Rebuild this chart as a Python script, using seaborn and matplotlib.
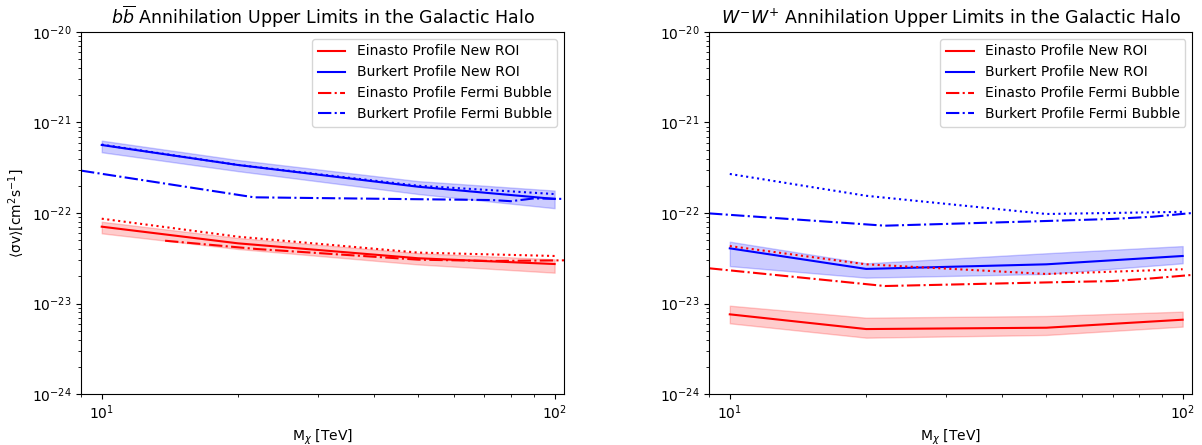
import matplotlib
matplotlib.use("Agg")
import matplotlib.pyplot as plt
import seaborn as sns
import numpy as np
import pandas as pd

# ---------------- data ----------------
mass = [10, 20, 50, 100]

# b bbar channel
bb_ein_new = [7.06e-23, 4.62e-23, 3.16e-23, 2.73e-23]
bb_ein_new_hi = [8.0e-23, 5.3e-23, 3.6e-23, 3.08e-23]
bb_ein_new_lo = [5.96e-23, 4.0e-23, 2.7e-23, 2.19e-23]
bb_bur_new = [5.64e-22, 3.39e-22, 1.95e-22, 1.43e-22]
bb_bur_new_hi = [6.3e-22, 3.85e-22, 2.25e-22, 1.77e-22]
bb_bur_new_lo = [4.69e-22, 2.9e-22, 1.62e-22, 1.13e-22]
bb_ein_old = [8.65e-23, 5.47e-23, 3.65e-23, 3.35e-23]
bb_bur_old = [5.7e-22, 3.4e-22, 2.0e-22, 1.62e-22]

bb_ein_fb_mass = [13.8, 22, 50, 73, 105]
bb_ein_fb = [4.94e-23, 4.0e-23, 3.05e-23, 2.95e-23, 3.0e-23]
bb_bur_fb_mass = [9, 21.7, 50, 73, 80, 90, 105]
bb_bur_fb = [2.94e-22, 1.49e-22, 1.42e-22, 1.39e-22, 1.35e-22, 1.45e-22, 1.43e-22]

# W- W+ channel
ww_ein_new = [7.59e-24, 5.22e-24, 5.4e-24, 6.62e-24]
ww_ein_new_hi = [9.46e-24, 6.97e-24, 7.28e-24, 8.13e-24]
ww_ein_new_lo = [6.04e-24, 4.19e-24, 4.49e-24, 5.55e-24]
ww_bur_new = [4.07e-23, 2.41e-23, 2.71e-23, 3.35e-23]
ww_bur_new_hi = [4.82e-23, 2.78e-23, 3.59e-23, 4.31e-23]
ww_bur_new_lo = [2.59e-23, 1.93e-23, 2.12e-23, 2.78e-23]
ww_ein_old = [4.31e-23, 2.71e-23, 2.12e-23, 2.39e-23]
ww_bur_old = [2.70e-22, 1.55e-22, 9.75e-23, 1.03e-22]

ww_fb_mass = [9, 22, 50, 70, 86, 105]
ww_ein_fb = [2.45e-23, 1.56e-23, 1.71e-23, 1.77e-23, 1.9e-23, 2.07e-23]
ww_bur_fb = [9.9e-23, 7.24e-23, 8.16e-23, 8.6e-23, 9.1e-23, 1.0e-22]

titles = [r"$b\overline{b}$ Annihilation Upper Limits in the Galactic Halo",
          r"$W^{-}W^{+}$ Annihilation Upper Limits in the Galactic Halo"]
labels = ["Einasto Profile New ROI", "Burkert Profile New ROI",
          "Einasto Profile Fermi Bubble", "Burkert Profile Fermi Bubble"]

# ---------------- plotting ----------------
fig = plt.figure(figsize=(12.02, 4.45), dpi=100)
ax1 = fig.add_axes([0.0674, 0.1146, 0.402, 0.8135])
ax2 = fig.add_axes([0.5899, 0.1146, 0.402, 0.8135])


def draw(ax, ein, ein_hi, ein_lo, bur, bur_hi, bur_lo, ein_old, bur_old,
         ein_fb_m, ein_fb, bur_fb_m, bur_fb, title, ylabel):
    sns.lineplot(x=mass, y=ein, color="red", linestyle="-", lw=1.5, ax=ax, label=labels[0])
    sns.lineplot(x=mass, y=bur, color="blue", linestyle="-", lw=1.5, ax=ax, label=labels[1])
    sns.lineplot(x=ein_fb_m, y=ein_fb, color="red", linestyle="-.", lw=1.5, ax=ax, label=labels[2])
    sns.lineplot(x=bur_fb_m, y=bur_fb, color="blue", linestyle="-.", lw=1.5, ax=ax, label=labels[3])
    sns.lineplot(x=mass, y=ein_old, color="red", linestyle=":", lw=1.5, ax=ax)
    sns.lineplot(x=mass, y=bur_old, color="blue", linestyle=":", lw=1.5, ax=ax)
    ax.fill_between(mass, ein_lo, ein_hi, color="red", alpha=0.2)
    ax.fill_between(mass, bur_lo, bur_hi, color="blue", alpha=0.2)
    ax.set_xscale("log")
    ax.set_yscale("log")
    ax.set_xlim(9, 105)
    ax.set_ylim(1e-24, 1e-20)
    ax.set_title(title, fontsize=12.5)
    ax.set_xlabel(r"M$_\chi$ [TeV]", fontsize=10)
    if ylabel:
        ax.set_ylabel(r"$\langle$σv$\rangle$[cm$^2$s$^{-1}$]", fontsize=10)
    else:
        ax.set_ylabel("")
    ax.legend(loc="upper right", fontsize=10)


draw(ax1, bb_ein_new, bb_ein_new_hi, bb_ein_new_lo, bb_bur_new, bb_bur_new_hi, bb_bur_new_lo,
     bb_ein_old, bb_bur_old, bb_ein_fb_mass, bb_ein_fb, bb_bur_fb_mass, bb_bur_fb, titles[0], True)
draw(ax2, ww_ein_new, ww_ein_new_hi, ww_ein_new_lo, ww_bur_new, ww_bur_new_hi, ww_bur_new_lo,
     ww_ein_old, ww_bur_old, ww_fb_mass, ww_ein_fb, ww_fb_mass, ww_bur_fb, titles[1], False)

fig.savefig("out.png", dpi=100)
